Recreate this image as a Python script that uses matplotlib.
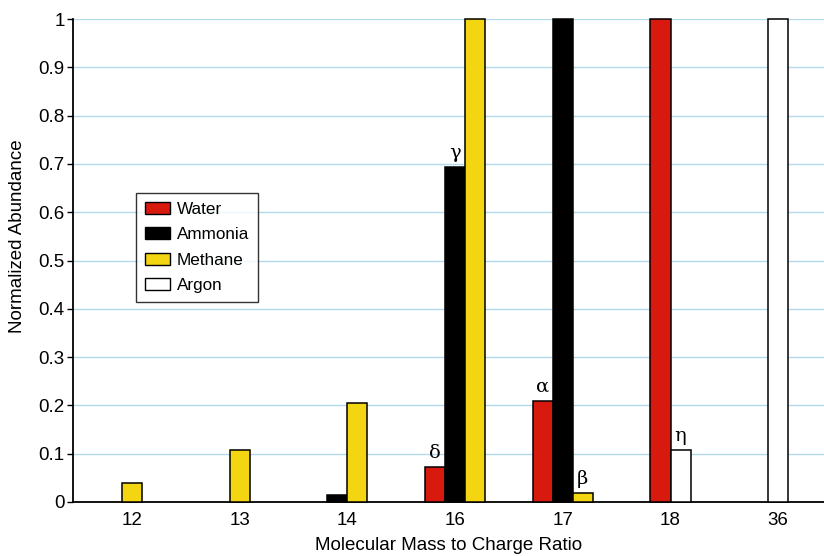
import matplotlib
matplotlib.use('Agg')
import matplotlib.pyplot as plt
from matplotlib.patches import Patch

plt.rcParams['font.family'] = ['Liberation Sans', 'DejaVu Sans']

# m/z categories and normalized abundance per gas (0 = no peak)
mz_labels = ['12', '13', '14', '16', '17', '18', '36']
water = [0, 0, 0, 0.073, 0.21, 1.0, 0]
ammonia = [0, 0, 0.014, 0.694, 1.0, 0, 0]
methane = [0.04, 0.107, 0.206, 1.0, 0.018, 0, 0]
argon = [0, 0, 0, 0, 0, 0.107, 1.0]

series = [
    ('Water', water, '#d8190e'),
    ('Ammonia', ammonia, '#000000'),
    ('Methane', methane, '#f3d511'),
    ('Argon', argon, '#ffffff'),
]

# greek peak markers: (series name, category index, letter)
peak_marks = [
    ('Water', 3, 'δ'),
    ('Ammonia', 3, 'γ'),
    ('Water', 4, 'α'),
    ('Methane', 4, 'β'),
    ('Argon', 5, 'η'),
]

fig = plt.figure(figsize=(8.24, 5.56), dpi=100)
ax = fig.add_axes([73 / 824, 1 - 502 / 556, 1 - 73 / 824, (502 - 19) / 556])

width = 0.186
bar_pos = {}
for i in range(len(mz_labels)):
    # only the gases with a peak at this m/z are drawn, centred on the tick
    present = [(name, vals[i], col) for name, vals, col in series if vals[i] > 0]
    n = len(present)
    for j, (name, v, col) in enumerate(present):
        x = i + (j - (n - 1) / 2) * width
        ax.bar(x, v, width=width, color=col, edgecolor='black', linewidth=1.1,
               zorder=3, clip_on=False)
        bar_pos[(name, i)] = (x, v)

for name, i, letter in peak_marks:
    x, v = bar_pos[(name, i)]
    ax.text(x, v + 0.01, letter, ha='center', va='bottom', fontsize=14,
            family=['DejaVu Serif'], zorder=4)

ax.set_xlim(-0.548, 6.425)
ax.set_ylim(0, 1)
ax.set_xticks(range(len(mz_labels)))
ax.set_xticklabels(mz_labels, fontsize=13.5)
ax.set_yticks([k / 10 for k in range(11)])
ax.set_yticklabels(['0'] + [f'0.{k}' for k in range(1, 10)] + ['1'], fontsize=13.5)
ax.tick_params(axis='x', length=0, pad=7)
ax.tick_params(axis='y', length=4, width=1, direction='out', pad=2)

ax.grid(True, axis='y', color='#b3d9ec', linewidth=1, zorder=0)
ax.set_axisbelow(True)
for side in ['top', 'right']:
    ax.spines[side].set_visible(False)
ax.spines['left'].set_linewidth(1.3)
ax.spines['bottom'].set_linewidth(1.3)

ax.set_xlabel('Molecular Mass to Charge Ratio', fontsize=13.5, labelpad=6)
ax.set_ylabel('Normalized Abundance', fontsize=13.5)
ax.yaxis.set_label_coords(-0.062, 0.551)

handles = [Patch(facecolor=col, edgecolor='black', linewidth=1, label=name)
           for name, _, col in series]
leg = ax.legend(handles=handles, loc='upper left',
                bbox_to_anchor=((136 - 73) / 751, (502 - 193) / 483),
                borderaxespad=0, fontsize=12.3, frameon=True, fancybox=False,
                edgecolor='black', handlelength=1.5, handleheight=0.7,
                labelspacing=0.62, borderpad=0.5, handletextpad=0.4)
leg.get_frame().set_linewidth(1)
leg.set_zorder(5)

fig.savefig('out.png', dpi=100)
